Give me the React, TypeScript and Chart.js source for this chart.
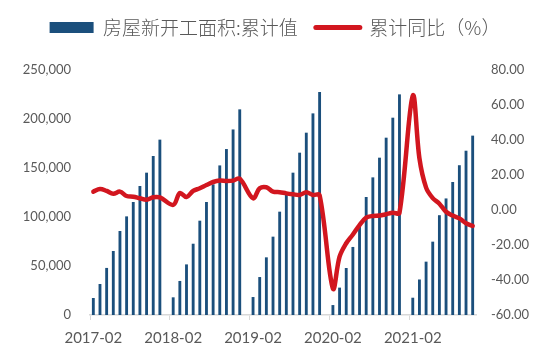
import React, { useEffect, useRef } from 'react';
import { Chart, registerables } from 'chart.js';

Chart.register(...registerables);

const categories = [
  '2017-02', '2017-03', '2017-04', '2017-05', '2017-06', '2017-07', '2017-08', '2017-09', '2017-10', '2017-11', '2017-12',
  '2018-01', '2018-02', '2018-03', '2018-04', '2018-05', '2018-06', '2018-07', '2018-08', '2018-09', '2018-10', '2018-11', '2018-12',
  '2019-01', '2019-02', '2019-03', '2019-04', '2019-05', '2019-06', '2019-07', '2019-08', '2019-09', '2019-10', '2019-11', '2019-12',
  '2020-01', '2020-02', '2020-03', '2020-04', '2020-05', '2020-06', '2020-07', '2020-08', '2020-09', '2020-10', '2020-11', '2020-12',
  '2021-01', '2021-02', '2021-03', '2021-04', '2021-05', '2021-06', '2021-07', '2021-08', '2021-09', '2021-10', '2021-11',
];

// 房屋新开工面积:累计值 (万平方米); January has no separate release
const newStartsCumulative = [
  17000, 31300, 47700, 65000, 85400, 100300, 115000, 131300, 144900, 161900, 178600,
  null, 17700, 34400, 51300, 72400, 95900, 115000, 133000, 152300, 169000, 189000, 209500,
  null, 18000, 38400, 58500, 79600, 105100, 122800, 144900, 165300, 185700, 205400, 227200,
  null, 9800, 27600, 47600, 69100, 90100, 120100, 140100, 160200, 180600, 201000, 224800,
  null, 17300, 35900, 54100, 74500, 101500, 118600, 135400, 152500, 167300, 182700,
];

// 累计同比 (%)
const yoyCumulative = [
  10.5, 12.0, 10.9, 9.3, 10.5, 8.0, 7.6, 6.7, 5.9, 7.3, 7.2,
  null, 2.9, 9.7, 7.4, 10.9, 12.4, 14.3, 16.0, 16.8, 16.6, 16.8, 17.9,
  null, 6.7, 12.4, 13.0, 10.5, 10.2, 9.5, 9.0, 8.6, 10.1, 8.6, 8.5,
  null, -44.9, -26.7, -19.0, -14.0, -8.6, -4.4, -3.4, -3.2, -2.4, -1.6, -1.6,
  null, 65.3, 29.5, 12.8, 6.8, 3.6, -1.0, -3.2, -4.8, -7.6, -9.1,
];

const xTickLabels = ['2017-02', '2018-02', '2019-02', '2020-02', '2021-02'];
const leftTicks = [0, 50000, 100000, 150000, 200000, 250000];
const rightTicks = [-60, -40, -20, 0, 20, 40, 60, 80];

const barLabel = '房屋新开工面积:累计值';
const lineLabel = '累计同比（%）';

const BAR_COLOR = '#1B4F7C';
const LINE_COLOR = '#D2161F';
const TEXT_COLOR = '#595959';
const AXIS_COLOR = '#D9D9D9';

export default function App() {
  const canvasRef = useRef<HTMLCanvasElement | null>(null);

  useEffect(() => {
    if (!canvasRef.current) return;
    const legendSpacer = {
      id: 'legendSpacer',
      afterInit(chart: any) {
        const lg = chart.legend;
        if (!lg) return;
        const orig = lg.fit.bind(lg);
        lg.fit = function () {
          orig();
          this.height = 70;
        };
      },
    };

    const chart = new Chart(canvasRef.current, {
      type: 'bar',
      data: {
        labels: categories,
        datasets: [
          {
            type: 'bar',
            label: barLabel,
            data: newStartsCumulative,
            backgroundColor: BAR_COLOR,
            borderWidth: 0,
            barThickness: 2.2,
            yAxisID: 'y',
            order: 2,
          },
          {
            type: 'line',
            label: lineLabel,
            data: yoyCumulative,
            borderColor: LINE_COLOR,
            backgroundColor: LINE_COLOR,
            borderWidth: 4.5,
            pointRadius: 0,
            tension: 0.35,
            spanGaps: true,
            borderCapStyle: 'round',
            borderJoinStyle: 'round',
            yAxisID: 'y1',
            order: 1,
          },
        ],
      } as any,
      options: {
        responsive: false,
        animation: false,
        layout: { padding: { top: 0, left: 0, right: 0, bottom: 0 } },
        plugins: {
          tooltip: { enabled: false },
          legend: {
            position: 'top',
            align: 'center',
            labels: {
              usePointStyle: true,
              pointStyleWidth: 44,
              boxHeight: 11,
              padding: 18,
              color: TEXT_COLOR,
              font: { family: '"Noto Sans CJK SC", sans-serif', size: 19, weight: '300' as any },
              generateLabels: () => [
                {
                  text: barLabel,
                  fillStyle: BAR_COLOR,
                  strokeStyle: BAR_COLOR,
                  lineWidth: 0,
                  pointStyle: 'rect',
                  datasetIndex: 0,
                  hidden: false,
                  fontColor: TEXT_COLOR,
                },
                {
                  text: lineLabel,
                  fillStyle: LINE_COLOR,
                  strokeStyle: LINE_COLOR,
                  lineWidth: 5,
                  lineCap: 'round',
                  pointStyle: 'line',
                  datasetIndex: 1,
                  hidden: false,
                  fontColor: TEXT_COLOR,
                },
              ] as any,
            },
          },
        },
        scales: {
          x: {
            type: 'category',
            offset: true,
            grid: {
              display: true,
              offset: true,
              drawOnChartArea: false,
              drawTicks: true,
              tickLength: 5,
              color: (ctx: any) =>
                ctx.index !== undefined && ctx.tick && xTickLabels.includes(categories[ctx.index]) ? AXIS_COLOR : 'rgba(0,0,0,0)',
            },
            border: { display: true, color: AXIS_COLOR, width: 1.5 },
            ticks: {
              autoSkip: false,
              maxRotation: 0,
              minRotation: 0,
              padding: 9,
              color: TEXT_COLOR,
              font: { family: 'Lato, sans-serif', size: 15 },
              callback: (_v: any, i: number) => (xTickLabels.includes(categories[i]) ? categories[i] : ''),
            },
            afterFit: (s: any) => {
              s.height = 42;
            },
          },
          y: {
            type: 'linear',
            position: 'left',
            min: 0,
            max: 250000,
            grid: { display: false },
            border: { display: false },
            afterBuildTicks: (s: any) => {
              s.ticks = leftTicks.map((v) => ({ value: v }));
            },
            ticks: {
              padding: 11,
              color: TEXT_COLOR,
              font: { family: 'Lato, sans-serif', size: 13 },
              callback: (v: any) => Number(v).toLocaleString('en-US'),
            },
            afterFit: (s: any) => {
              s.width = 90;
            },
          },
          y1: {
            type: 'linear',
            position: 'right',
            min: -60,
            max: 80,
            grid: { display: false },
            border: { display: false },
            afterBuildTicks: (s: any) => {
              s.ticks = rightTicks.map((v) => ({ value: v }));
            },
            ticks: {
              padding: 7,
              color: TEXT_COLOR,
              font: { family: 'Lato, sans-serif', size: 13 },
              callback: (v: any) => Number(v).toFixed(2),
            },
            afterFit: (s: any) => {
              s.width = 74;
            },
          },
        },
      } as any,
      plugins: [legendSpacer],
    });
    return () => chart.destroy();
  }, []);

  return (
    <div style={{ position: 'fixed', left: 0, top: 0, width: 550, height: 357, background: '#fff' }}>
      <canvas ref={canvasRef} width={550} height={357} style={{ display: 'block' }} />
    </div>
  );
}
